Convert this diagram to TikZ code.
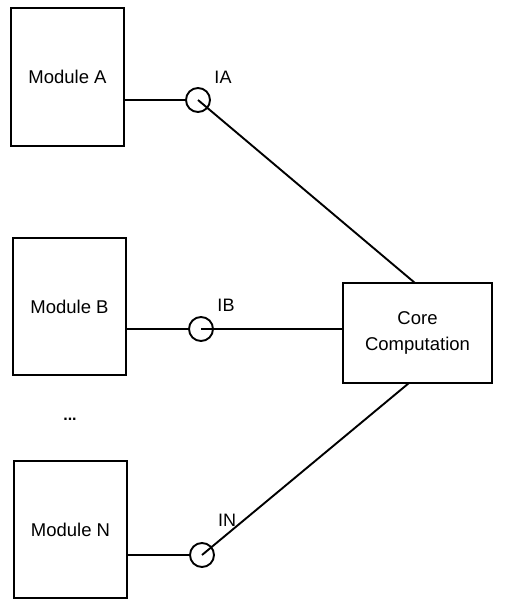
\documentclass[tikz,border=0pt]{standalone}
\usepackage{fontspec}
\setmainfont{Liberation Sans}
\begin{document}
\begin{tikzpicture}[x=1pt,y=-1pt,
  box/.style={draw, line width=2pt, minimum width=113pt, minimum height=137pt, inner sep=0pt, font=\fontsize{18.5}{22}\selectfont},
  corebox/.style={draw, line width=2pt, minimum width=149pt, minimum height=100pt, inner sep=0pt, align=center, font=\fontsize{18.5}{26}\selectfont},
  iface/.style={draw, circle, line width=1.9pt, minimum size=24pt, inner sep=0pt},
  lbl/.style={font=\fontsize{18}{21}\selectfont, inner sep=0pt},
  wire/.style={line width=1.9pt}]
\useasboundingbox (0,0) rectangle (505,602);
\node[box] (modA) at (67.5,77) {Module A};
\node[box] (modB) at (69.5,306.5) {Module B};
\node[box] (modN) at (70.5,529.5) {Module N};
\node[corebox] (core) at (417.5,333) {Core\\Computation};
\node[iface] (ia) at (198,100) {};
\node[iface] (ib) at (201,329) {};
\node[iface] (in) at (202,555) {};
\node[lbl] (la) at (223,77) {IA};
\node[lbl] (lb) at (226,305) {IB};
\node[lbl] (ln) at (227,520) {IN};
\node[font=\fontsize{16}{18}\selectfont\bfseries] (dots) at (70,419) {...};
\coordinate (ca) at (415,283);
\coordinate (cn) at (409,383);
\draw[wire] (modA.east |- ia) -- (ia.west);
\draw[wire] (modB.east |- ib) -- (ib.west);
\draw[wire] (modN.east |- in) -- (in.west);
\draw[wire] (ia.center) -- (ca);
\draw[wire] (ib.center) -- (core.west |- ib);
\draw[wire] (in.center) -- (cn);
\end{tikzpicture}
\end{document}
